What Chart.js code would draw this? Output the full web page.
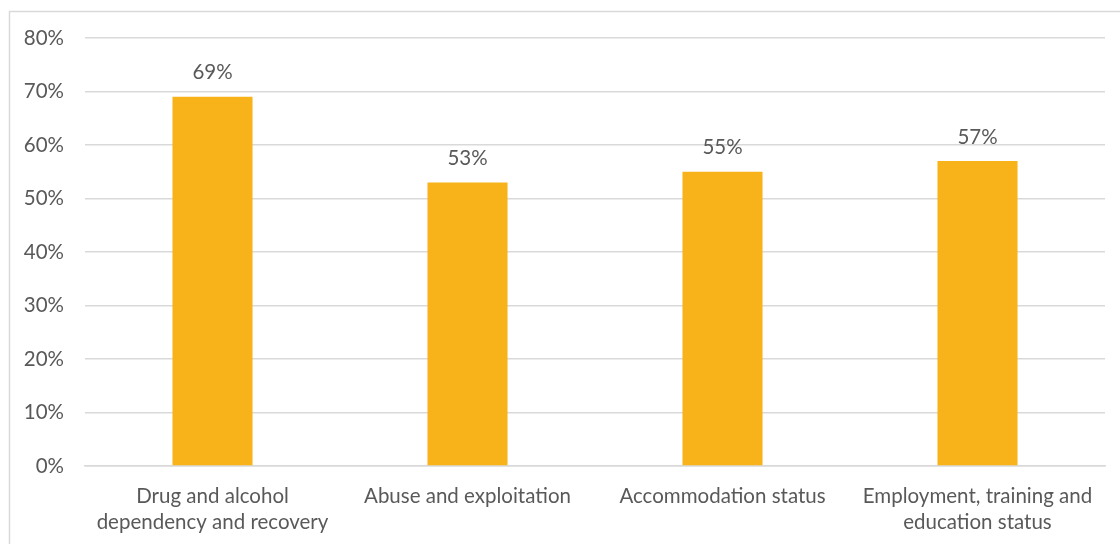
<!DOCTYPE html>
<html>
<head>
<meta charset="utf-8">
<script src="https://cdn.jsdelivr.net/npm/chart.js@4"></script>
<style>
  html, body { margin: 0; padding: 0; background: #fff; }
  #wrap { position: relative; width: 1120px; height: 544px; }
</style>
</head>
<body>
<div id="wrap"><canvas id="chart" width="1120" height="544"></canvas></div>
<script>
const categories = [
    ['Drug and alcohol', 'dependency and recovery'],
    'Abuse and exploitation',
    'Accommodation status',
    ['Employment, training and', 'education status']
];
const percentValues = [69, 53, 55, 57];
const yTicks = [0, 10, 20, 30, 40, 50, 60, 70, 80];

const textColor = '#595959';
const gridColor = '#d9d9d9';
const barColor = '#F8B31A';
const fontFamily = 'Lato, "Open Sans", sans-serif';
const fontSize = 20.5;

// value labels above each bar
const barLabels = {
    id: 'barLabels',
    afterDatasetsDraw(chart) {
        const ctx = chart.ctx;
        const meta = chart.getDatasetMeta(0);
        ctx.save();
        ctx.font = `${fontSize}px ${fontFamily}`;
        ctx.fillStyle = textColor;
        ctx.textAlign = 'center';
        ctx.textBaseline = 'middle';
        meta.data.forEach((bar, i) => {
            ctx.fillText(percentValues[i] + '%', bar.x, bar.y - 24);
        });
        ctx.restore();
    }
};

// thin frame round the chart
const frame = {
    id: 'frame',
    beforeDraw(chart) {
        const ctx = chart.ctx;
        ctx.save();
        ctx.strokeStyle = gridColor;
        ctx.lineWidth = 1.5;
        ctx.strokeRect(9.5, 11.5, 1300, 700);
        ctx.restore();
    }
};

new Chart(document.getElementById('chart'), {
    type: 'bar',
    data: {
        labels: categories,
        datasets: [{
            data: percentValues,
            backgroundColor: barColor,
            barPercentage: 0.314,
            categoryPercentage: 1
        }]
    },
    options: {
        responsive: false,
        animation: false,
        layout: { padding: { top: 38, right: 15, left: 0, bottom: 0 } },
        plugins: {
            legend: { display: false },
            tooltip: { enabled: false }
        },
        scales: {
            x: {
                grid: { display: false, drawTicks: false },
                border: { display: true, color: gridColor, width: 1.5 },
                ticks: {
                    color: textColor,
                    font: { family: fontFamily, size: fontSize, lineHeight: '26px' },
                    padding: 17,
                    maxRotation: 0,
                    autoSkip: false
                },
                afterFit(scale) { scale.height = 78; }
            },
            y: {
                min: 0,
                max: 80,
                afterBuildTicks(scale) {
                    scale.ticks = yTicks.map(v => ({ value: v }));
                },
                grid: { color: gridColor, lineWidth: 1.5, drawTicks: false },
                border: { display: false },
                ticks: {
                    color: textColor,
                    font: { family: fontFamily, size: fontSize },
                    padding: 21,
                    callback: v => v + '%'
                },
                afterFit(scale) { scale.width = 85; }
            }
        }
    },
    plugins: [frame, barLabels]
});
</script>
</body>
</html>
